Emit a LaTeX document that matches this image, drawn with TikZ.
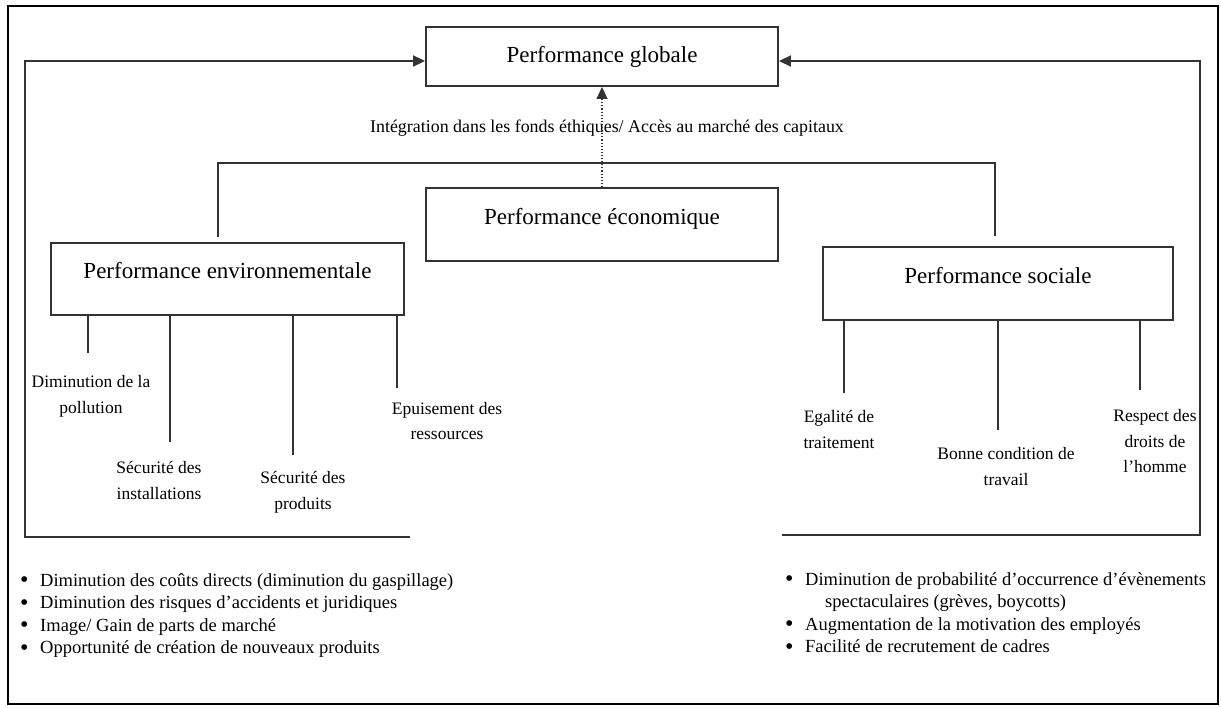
\documentclass[tikz,border=0pt]{standalone}
\usepackage{fontspec}
\setmainfont{Liberation Serif}
\usetikzlibrary{arrows.meta}
\newcommand{\bul}{\makebox[20pt][l]{\raisebox{-1.8pt}{\scalebox{1.3}{\textbullet}}}}
\begin{document}
\begin{tikzpicture}[x=1pt,y=-1pt,
  conn/.style={line width=1.9pt, draw=black!80},
  arr/.style={conn, -{Triangle[length=12pt,width=11pt]}},
  box/.style={draw=black!80, line width=1.9pt, inner sep=0pt, font=\fontsize{23}{27}\selectfont},
  leaf/.style={align=center, inner sep=0pt, font=\fontsize{17.5}{25.5}\selectfont},
  list/.style={align=left, anchor=north west, inner sep=0pt, font=\fontsize{18.5}{22.5}\selectfont}]
\useasboundingbox (0,0) rectangle (1221,708);
\draw[line width=1.5pt] (8,6) rectangle (1218,704);

% main boxes
\node[box, minimum width=352pt, minimum height=59pt] (glob) at (602,56.5) {Performance globale};
\node[box, minimum width=352pt, minimum height=73pt, text height=16pt, text depth=16pt] (eco) at (602,224.5) {Performance économique};
\node[box, minimum width=353pt, minimum height=72pt, text height=16pt, text depth=16pt] (env) at (227.5,279) {Performance environnementale};
\node[box, minimum width=350pt, minimum height=73pt, text height=16pt, text depth=16pt] (soc) at (998,283.5) {Performance sociale};

\node[inner sep=0pt, font=\fontsize{17.9}{21}\selectfont] (integ) at (607,128) {Intégration dans les fonds éthiques/ Accès au marché des capitaux};

% global feedback arrows
\coordinate (Ltop) at (25,61);
\coordinate (Lbot) at (25,537);
\coordinate (Lend) at (410,537);
\draw[arr] (Lend) -- (Lbot) -- (Ltop) -- (Ltop -| glob.west);
\coordinate (Rtop) at (1200,61);
\coordinate (Rbot) at (1200,535);
\coordinate (Rend) at (782,535);
\draw[arr] (Rend) -- (Rbot) -- (Rtop) -- (Rtop -| glob.east);

% dotted arrow
\draw[line width=1.1pt, dotted, draw=black!80, -{Triangle[length=12pt,width=11pt]}] (eco.north) -- (glob.south);

% bracket linking env and social
\coordinate (bl) at (218,163);
\coordinate (br) at (995,163);
\draw[conn] (218,237) -- (bl) -- (br) -- (995,236);

% environmental leaves
\node[leaf] (e1) at (91,396.5) {Diminution de la\\pollution};
\node[leaf] (e2) at (159,480.5) {Sécurité des\\installations};
\node[leaf] (e3) at (303,492.5) {Sécurité des\\produits};
\node[leaf] (e4) at (447,421) {Epuisement des\\ressources};
\draw[conn] (env.south -| 88,0) -- (88,353);
\draw[conn] (env.south -| 170,0) -- (170,442);
\draw[conn] (env.south -| 293,0) -- (293,455);
\draw[conn] (env.south -| 397,0) -- (397,388);

% social leaves
\node[leaf] (s1) at (839,429.5) {Egalité de\\traitement};
\node[leaf] (s2) at (1006,466.5) {Bonne condition de\\travail};
\node[leaf] (s3) at (1155,441.5) {Respect des\\droits de\\l’homme};
\draw[conn] (soc.south -| 844,0) -- (844,393);
\draw[conn] (soc.south -| 998,0) -- (998,430);
\draw[conn] (soc.south -| 1140,0) -- (1140,390);

% lists
\node[list] (lleft) at (20,573) {\bul Diminution des coûts directs (diminution du gaspillage)\\
\bul Diminution des risques d’accidents et juridiques\\
\bul Image/ Gain de parts de marché\\
\bul Opportunité de création de nouveaux produits};
\node[list] (lright) at (785,572) {\bul Diminution de probabilité d’occurrence d’évènements\\
\hspace{40pt}spectaculaires (grèves, boycotts)\\
\bul Augmentation de la motivation des employés\\
\bul Facilité de recrutement de cadres};
\end{tikzpicture}
\end{document}
